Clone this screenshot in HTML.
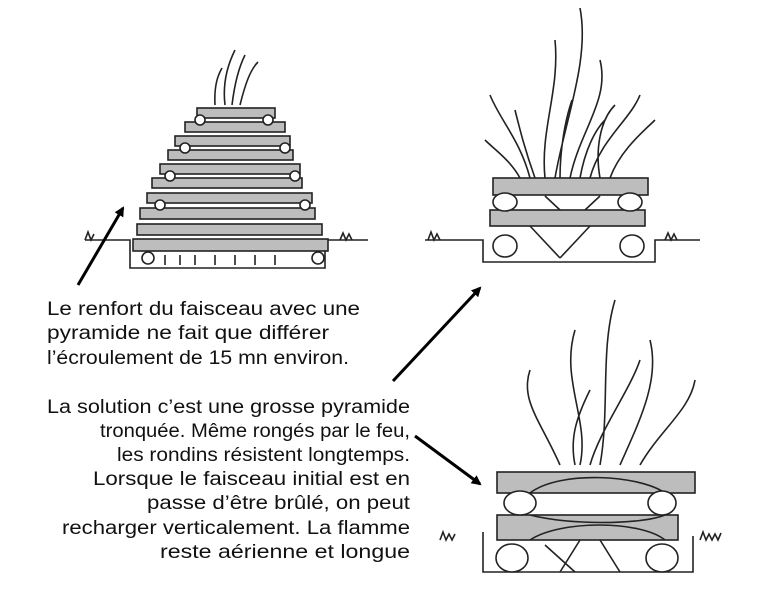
<!DOCTYPE html>
<html><head><meta charset="utf-8"><style>
body{margin:0;background:#fff;}
svg{display:block;}
text{font-family:"Liberation Sans",sans-serif;font-size:19px;fill:#111;}
</style></head><body>
<svg width="784" height="589" viewBox="0 0 784 589" xmlns="http://www.w3.org/2000/svg">
<defs><marker id="ah" markerWidth="10" markerHeight="10" refX="8" refY="5" orient="auto" markerUnits="userSpaceOnUse"><path d="M0,0 L10,5 L0,10 z" fill="#000"/></marker></defs>
<g stroke="#222" stroke-width="1.6" fill="none">
<!-- pyramid -->
<path d="M85,240 H130 V268 H325 V240 H368"/>
<path d="M85,240 l3,-8 l3,8 l3,-6 M340,240 l3,-7 l3,7 l3,-6 l3,6"/>
<path d="M225,105 C222,80 230,60 235,50 M232,105 C235,80 240,65 245,55 M240,105 C245,85 250,70 258,62 M215,105 C214,85 218,75 222,68"/>
<g fill="#bdbdbd">
<rect x="197" y="108" width="78" height="10"/>
<rect x="185" y="122" width="100" height="10"/>
<rect x="175" y="136" width="115" height="10"/>
<rect x="168" y="150" width="125" height="10"/>
<rect x="160" y="164" width="140" height="10"/>
<rect x="152" y="178" width="150" height="10"/>
<rect x="147" y="193" width="165" height="10"/>
<rect x="140" y="208" width="175" height="11"/>
<rect x="137" y="224" width="185" height="11"/>
<rect x="133" y="239" width="195" height="12"/>
</g>
<g fill="#fff">
<circle cx="200" cy="120" r="5"/><circle cx="268" cy="120" r="5"/>
<circle cx="185" cy="148" r="5"/><circle cx="285" cy="148" r="5"/>
<circle cx="170" cy="176" r="5"/><circle cx="295" cy="176" r="5"/>
<circle cx="160" cy="205" r="5"/><circle cx="305" cy="205" r="5"/>
<circle cx="148" cy="258" r="6"/><circle cx="318" cy="258" r="6"/>
</g>
<path d="M165,255 v10 M180,255 v10 M195,255 v10 M215,255 v10 M235,255 v10 M255,255 v10 M275,255 v10"/>
<!-- top right fire -->
<path d="M425,240 H483 V262 H655 V240 H700"/>
<path d="M428,240 l3,-8 l3,8 l3,-6 l3,6 M665,240 l3,-7 l3,7 l3,-6 l3,6"/>
<path d="M530,178 C520,140 500,120 490,95 M545,178 C540,130 560,90 555,40 M555,178 C565,120 590,60 580,8 M570,178 C580,130 610,100 600,60 M590,178 C600,140 630,120 640,95 M610,178 C620,150 645,130 655,120 M520,178 C510,160 495,150 485,140 M560,178 C560,150 565,120 572,100 M600,178 C595,150 600,120 615,105 M535,178 C525,150 520,130 515,110 M580,178 C585,150 595,130 605,120"/>
<g fill="#bdbdbd"><rect x="493" y="178" width="155" height="17"/><rect x="490" y="210" width="155" height="16"/></g>
<g fill="#fff"><ellipse cx="505" cy="202" rx="12" ry="9"/><ellipse cx="630" cy="202" rx="12" ry="9"/><ellipse cx="505" cy="246" rx="12" ry="11"/><ellipse cx="632" cy="246" rx="12" ry="11"/></g>
<path d="M530,226 L560,258 M590,226 L560,258 M545,196 L560,210 M600,196 L585,210"/>
<!-- bottom right -->
<path d="M440,540 l3,-8 l3,8 l3,-6 l3,6 l3,-6 M700,540 l3,-8 l3,8 l3,-6 l3,6 l3,-6 l3,6 l3,-7"/>
<path d="M483,532 V572 H693 V536"/>
<path d="M560,465 C540,420 520,400 530,370 M580,465 C590,420 560,380 575,330 M600,465 C610,410 600,350 615,300 M620,465 C640,420 660,380 650,340 M640,465 C660,430 690,410 695,380 M575,465 C570,440 575,420 590,390 M590,465 C600,430 630,390 640,360"/>
<g fill="#bdbdbd"><rect x="497" y="472" width="198" height="21"/><rect x="497" y="515" width="181" height="25"/></g>
<path d="M530,493 C560,470 640,475 665,493 M530,515 C570,525 640,525 665,515 M530,540 C560,520 640,520 665,540"/>
<g fill="#fff"><ellipse cx="520" cy="503" rx="16" ry="12"/><ellipse cx="662" cy="503" rx="14" ry="12"/><ellipse cx="512" cy="558" rx="16" ry="14"/><ellipse cx="662" cy="558" rx="16" ry="14"/></g>
<path d="M545,545 L575,572 M600,540 L620,572 M580,540 L560,572"/>
</g>
<!-- arrows -->
<g stroke="#000" stroke-width="3" marker-end="url(#ah)">
<line x1="78" y1="285" x2="123" y2="208"/>
<line x1="393" y1="381" x2="480" y2="288"/>
<line x1="415" y1="436" x2="480" y2="484"/>
</g>
<g lengthAdjust="spacingAndGlyphs">
<text x="47" y="315" textLength="313" lengthAdjust="spacingAndGlyphs">Le renfort du faisceau avec une</text>
<text x="47" y="339" textLength="282" lengthAdjust="spacingAndGlyphs">pyramide ne fait que différer</text>
<text x="47" y="364" textLength="302" lengthAdjust="spacingAndGlyphs">l’écroulement de 15 mn environ.</text>
<text x="47" y="413" textLength="363" lengthAdjust="spacingAndGlyphs">La solution c’est une grosse pyramide</text>
<text x="100" y="437" textLength="310" lengthAdjust="spacingAndGlyphs">tronquée. Même rongés par le feu,</text>
<text x="117" y="461" textLength="293" lengthAdjust="spacingAndGlyphs">les rondins résistent longtemps.</text>
<text x="93" y="485" textLength="317" lengthAdjust="spacingAndGlyphs">Lorsque le faisceau initial est en</text>
<text x="147" y="509" textLength="263" lengthAdjust="spacingAndGlyphs">passe d’être brûlé, on peut</text>
<text x="62" y="534" textLength="348" lengthAdjust="spacingAndGlyphs">recharger verticalement. La flamme</text>
<text x="160" y="558" textLength="250" lengthAdjust="spacingAndGlyphs">reste aérienne et longue</text>
</g>
</svg>
</body></html>
